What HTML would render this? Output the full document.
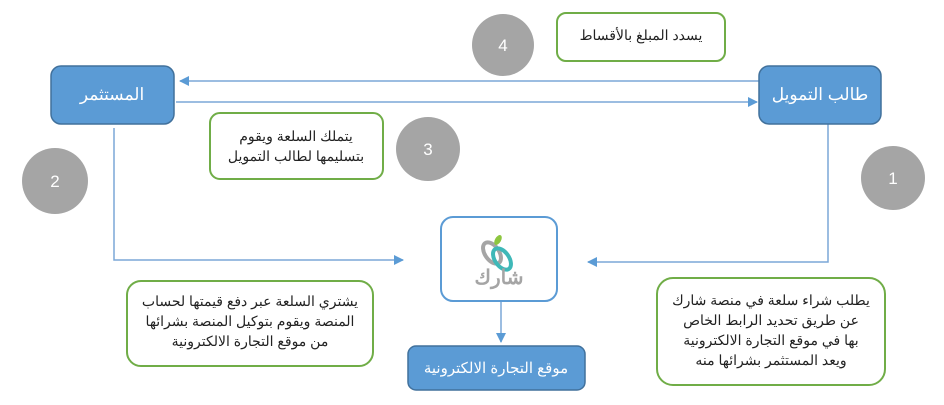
<!DOCTYPE html>
<html><head><meta charset="utf-8"><style>
html,body{margin:0;padding:0;background:#fff;width:944px;height:405px;overflow:hidden}
svg text{font-family:"Liberation Sans","Noto Sans CJK SC",sans-serif}
</style></head><body>
<svg width="944" height="405" viewBox="0 0 944 405" xmlns="http://www.w3.org/2000/svg">
<defs>
<marker id="a" markerWidth="10" markerHeight="10" refX="9" refY="5" orient="auto" markerUnits="userSpaceOnUse">
<path d="M0,0 L10,5 L0,10 z" fill="#5b9bd5"/></marker>
</defs>
<g stroke="#7ba7d7" stroke-width="1.5" fill="none">
<line x1="759" y1="81" x2="180" y2="81" marker-end="url(#a)"/>
<line x1="176" y1="102" x2="757" y2="102" marker-end="url(#a)"/>
<polyline points="114,128 114,260 403,260" marker-end="url(#a)"/>
<polyline points="828,124 828,262 588,262" marker-end="url(#a)"/>
<line x1="501" y1="301" x2="501" y2="342" marker-end="url(#a)"/>
</g>
<rect x="51" y="66" width="123" height="58" rx="10" fill="#5b9bd5" stroke="#41719c" stroke-width="1.5"/>
<text x="112" y="100" font-size="17" fill="#fff" text-anchor="middle">المستثمر</text>
<rect x="759" y="66" width="122" height="58" rx="10" fill="#5b9bd5" stroke="#41719c" stroke-width="1.5"/>
<text x="820" y="100" font-size="17" fill="#fff" text-anchor="middle">طالب التمويل</text>
<rect x="557" y="13" width="168" height="48" rx="9" fill="#fff" stroke="#70ad47" stroke-width="2"/>
<text x="641" y="40" font-size="14" fill="#222" text-anchor="middle">يسدد المبلغ بالأقساط</text>
<rect x="210" y="113" width="173" height="66" rx="10" fill="#fff" stroke="#70ad47" stroke-width="2"/>
<text x="296" y="141" font-size="14" fill="#222" text-anchor="middle">يتملك السلعة ويقوم</text>
<text x="296" y="161" font-size="14" fill="#222" text-anchor="middle">بتسليمها لطالب التمويل</text>
<g fill="#a5a5a5">
<circle cx="503" cy="45" r="31"/><circle cx="428" cy="149" r="32"/>
<circle cx="55" cy="181" r="33"/><circle cx="893" cy="178" r="32"/>
</g>
<g fill="#fff" font-size="17" text-anchor="middle">
<text x="503" y="51">4</text>
<text x="428" y="155">3</text><text x="55" y="187">2</text><text x="893" y="184">1</text>
</g>
<rect x="441" y="217" width="116" height="84" rx="12" fill="#fff" stroke="#5b9bd5" stroke-width="2"/>
<ellipse cx="492" cy="253" rx="7" ry="12" transform="rotate(-35 492 253)" fill="none" stroke="#a5a5a5" stroke-width="4"/>
<ellipse cx="502" cy="259" rx="7" ry="12" transform="rotate(-35 502 259)" fill="none" stroke="#3fb8b8" stroke-width="4"/>
<ellipse cx="498" cy="240" rx="3" ry="5.5" transform="rotate(30 498 240)" fill="#8dc63f"/>
<text x="499" y="284" font-size="20" font-weight="bold" fill="#a5a5a5" text-anchor="middle">شارك</text>
<rect x="408" y="346" width="177" height="44" rx="8" fill="#5b9bd5" stroke="#41719c" stroke-width="1.5"/>
<text x="496" y="373" font-size="15" fill="#fff" text-anchor="middle">موقع التجارة الالكترونية</text>
<rect x="127" y="281" width="246" height="85" rx="14" fill="#fff" stroke="#70ad47" stroke-width="2"/>
<g font-size="14" fill="#222" text-anchor="middle">
<text x="250" y="306">يشتري السلعة عبر دفع قيمتها لحساب</text>
<text x="250" y="326">المنصة ويقوم بتوكيل المنصة بشرائها</text>
<text x="250" y="346">من موقع التجارة الالكترونية</text>
</g>
<rect x="657" y="278" width="228" height="107" rx="16" fill="#fff" stroke="#70ad47" stroke-width="2"/>
<g font-size="14" fill="#222" text-anchor="middle">
<text x="771" y="305">يطلب شراء سلعة في منصة شارك</text>
<text x="771" y="325">عن طريق تحديد الرابط الخاص</text>
<text x="771" y="345">بها في موقع التجارة الالكترونية</text>
<text x="771" y="365">ويعد المستثمر بشرائها منه</text>
</g>
</svg>
</body></html>
